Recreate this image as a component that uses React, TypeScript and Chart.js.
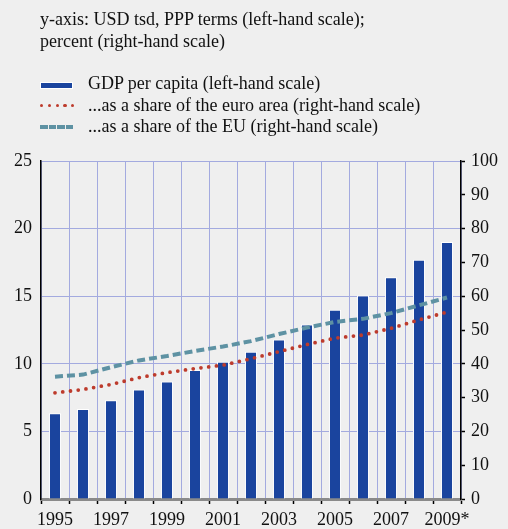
import React, { useEffect, useRef } from "react";
import { Chart, registerables } from "chart.js";

Chart.register(...registerables);

const years = ["1995", "1996", "1997", "1998", "1999", "2000", "2001", "2002", "2003", "2004", "2005", "2006", "2007", "2008", "2009*"];
const gdpPerCapita = [6.35, 6.65, 7.3, 8.1, 8.7, 9.55, 10.15, 10.9, 11.8, 12.9, 14.0, 15.05, 16.4, 17.7, 19.0];
const shareEuroArea = [31.4, 32.4, 33.9, 35.9, 37.4, 38.6, 39.6, 41.5, 43.6, 45.7, 47.6, 48.5, 50.5, 53.0, 55.3];
const shareEU = [36.2, 36.8, 39.0, 41.0, 42.3, 43.8, 45.1, 46.7, 48.8, 50.7, 52.4, 53.3, 55.0, 57.3, 59.6];
const leftTicks = [0, 5, 10, 15, 20, 25];
const rightTicks = [0, 10, 20, 30, 40, 50, 60, 70, 80, 90, 100];

const titleLines = ["y-axis: USD tsd, PPP terms (left-hand scale);", "percent (right-hand scale)"];
const seriesLabels = [
  "GDP per capita (left-hand scale)",
  "...as a share of the euro area (right-hand scale)",
  "...as a share of the EU (right-hand scale)",
];

const BLUE = "#1a449e";
const RED = "#bd3b2c";
const TEAL = "#5e92a3";
const GRID = "#a3aadf";
const BG = "#efefef";
const FONT = '"Liberation Serif", "Times New Roman", serif';
const FS = 18;

export default function App() {
  const ref = useRef<HTMLCanvasElement | null>(null);

  useEffect(() => {
    if (!ref.current) return;
    const chart = new Chart(ref.current, {
      type: "bar",
      data: {
        labels: years,
        datasets: [
          {
            type: "line",
            label: seriesLabels[1],
            data: shareEuroArea,
            yAxisID: "yR",
            borderColor: RED,
            borderWidth: 3.8,
            borderDash: [0, 7.8],
            borderCapStyle: "round",
            pointRadius: 0,
            tension: 0,
            fill: false,
            order: 0,
          } as any,
          {
            type: "line",
            label: seriesLabels[2],
            data: shareEU,
            yAxisID: "yR",
            borderColor: TEAL,
            borderWidth: 4,
            borderDash: [8, 4],
            pointRadius: 0,
            tension: 0,
            fill: false,
            order: 1,
          } as any,
          {
            type: "bar",
            label: seriesLabels[0],
            data: gdpPerCapita,
            yAxisID: "yL",
            backgroundColor: BLUE,
            borderColor: "#ffffff",
            borderWidth: 1,
            categoryPercentage: 1,
            barPercentage: 0.43,
            order: 2,
          } as any,
        ],
      },
      options: {
        animation: false,
        responsive: false,
        maintainAspectRatio: false,
        layout: { padding: { top: 161, left: 0, right: 0, bottom: 0 } },
        plugins: {
          legend: { display: false },
          title: { display: false },
          tooltip: { enabled: false },
        },
        scales: {
          x: {
            offset: true,
            grid: {
              offset: true,
              color: GRID,
              lineWidth: 1,
              tickColor: "#000000",
              tickLength: 5,
              tickWidth: 1.5,
            },
            border: { color: "#8a8a8a", width: 3 },
            ticks: {
              autoSkip: false,
              maxRotation: 0,
              padding: 5,
              color: "#111111",
              font: { family: FONT, size: FS },
              callback: (_v: any, i: number) => (i % 2 === 0 ? years[i] : ""),
            },
            afterFit: (s: any) => {
              s.height = 30;
            },
          },
          yL: {
            position: "left",
            min: 0,
            max: 25,
            afterBuildTicks: (s: any) => {
              s.ticks = leftTicks.map((v) => ({ value: v }));
            },
            grid: { color: GRID, lineWidth: 1, drawTicks: false },
            border: { color: "#000000", width: 1.5 },
            ticks: {
              padding: 9,
              color: "#111111",
              font: { family: FONT, size: FS },
            },
            afterFit: (s: any) => {
              s.width = 41;
            },
          },
          yR: {
            position: "right",
            min: 0,
            max: 100,
            afterBuildTicks: (s: any) => {
              s.ticks = rightTicks.map((v) => ({ value: v }));
            },
            grid: {
              drawOnChartArea: false,
              tickColor: "#000000",
              tickLength: 4,
              tickWidth: 1.5,
            },
            border: { color: "#000000", width: 1.5 },
            ticks: {
              padding: 6,
              color: "#111111",
              font: { family: FONT, size: FS },
            },
            afterFit: (s: any) => {
              s.width = 47;
            },
          },
        },
      },
    });
    return () => chart.destroy();
  }, []);

  const dots = [41.7, 49.4, 57.2, 65, 72.7];
  const dashes = [40, 48.5, 57, 65.5];

  return (
    <div
      style={{
        position: "absolute",
        left: 0,
        top: 0,
        width: 508,
        height: 529,
        background: BG,
        fontFamily: FONT,
        color: "#111111",
        fontSize: FS,
        overflow: "hidden",
      }}
    >
      <canvas ref={ref} width={508} height={529} style={{ position: "absolute", left: 0, top: 0, width: 508, height: 529 }} />
      <div style={{ position: "absolute", left: 40, top: 7.9, lineHeight: "22px", whiteSpace: "nowrap" }}>
        {titleLines.map((t, i) => (
          <div key={i}>{t}</div>
        ))}
      </div>
      {/* legend */}
      <div
        style={{
          position: "absolute",
          left: 40,
          top: 82,
          width: 33,
          height: 7,
          boxSizing: "border-box",
          background: BLUE,
          border: "1px solid #ffffff",
        }}
      />
      {dots.map((x, i) => (
        <div
          key={"d" + i}
          style={{
            position: "absolute",
            left: x - 1.7,
            top: 105.5 - 1.7,
            width: 3.4,
            height: 3.4,
            borderRadius: "50%",
            background: RED,
          }}
        />
      ))}
      {dashes.map((x, i) => (
        <div
          key={"t" + i}
          style={{
            position: "absolute",
            left: x,
            top: 124.7,
            width: 7.5,
            height: 4,
            background: TEAL,
          }}
        />
      ))}
      {seriesLabels.map((t, i) => (
        <div
          key={"l" + i}
          style={{ position: "absolute", left: 88, top: 72.2 + i * 21.5, lineHeight: "22px", whiteSpace: "nowrap" }}
        >
          {t}
        </div>
      ))}
    </div>
  );
}
